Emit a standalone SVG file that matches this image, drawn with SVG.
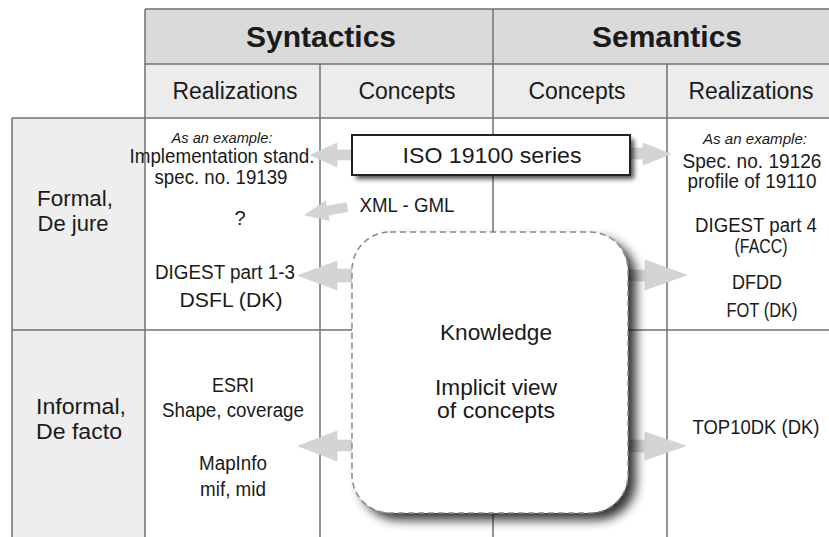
<svg xmlns="http://www.w3.org/2000/svg" width="829" height="537" viewBox="0 0 829 537">
<defs>
<style>
.t{font-family:"Liberation Sans",Arial,sans-serif;fill:#1a1a1a;text-anchor:middle;}
.b{font-size:20px;}
.h1{font-size:30px;font-weight:bold;}
.h2{font-size:23px;}
.lab{font-size:22px;}
.it{font-size:14px;font-style:italic;}
.grid{stroke:#727272;stroke-width:1.5;fill:none;}
.arr{fill:#d4d4d4;stroke:#c8c8c8;stroke-width:0.5;}
</style>
<filter id="shK" x="-20%" y="-20%" width="150%" height="150%">
<feGaussianBlur stdDeviation="5.5"/>
</filter>
<filter id="shI" x="-20%" y="-50%" width="150%" height="200%">
<feGaussianBlur stdDeviation="2.5"/>
</filter>
</defs>
<rect width="829" height="537" fill="#ffffff"/>
<g id="table">
<rect x="145" y="9" width="684" height="55" fill="#dadada"/>
<rect x="145" y="64" width="684" height="54" fill="#ececec"/>
<rect x="12" y="118" width="133" height="419" fill="#eeeeee"/>
<path class="grid" d="M145 9H829M145 64H829M12 118H829M12 330H829M12 118V537M145 9V537M320 64V537M493 9V537M667 64V537"/>
</g>
<g id="headers">
<text class="t h1" x="321" y="47">Syntactics</text>
<text class="t h1" x="667" y="47">Semantics</text>
<text class="t h2" x="235" y="99" textLength="125" lengthAdjust="spacingAndGlyphs">Realizations</text>
<text class="t h2" x="407" y="99">Concepts</text>
<text class="t h2" x="577" y="99">Concepts</text>
<text class="t h2" x="751" y="99" textLength="125" lengthAdjust="spacingAndGlyphs">Realizations</text>
</g>
<g id="rowlabels">
<text class="t lab" x="75" y="206" textLength="76" lengthAdjust="spacingAndGlyphs">Formal,</text>
<text class="t lab" x="73" y="231" textLength="71" lengthAdjust="spacingAndGlyphs">De jure</text>
<text class="t lab" x="81" y="414" textLength="90" lengthAdjust="spacingAndGlyphs">Informal,</text>
<text class="t lab" x="79" y="439" textLength="86" lengthAdjust="spacingAndGlyphs">De facto</text>
</g>
<g id="connectors">
<polygon id="a-iso-left" class="arr" points="356,150 337,150 337,143 310,155 337,167 337,160 356,160"/>
<polygon id="a-iso-right" class="arr" points="626,148 643,148 643,143 671,154 643,165 643,159 626,159"/>
<polygon id="a-xml" class="arr" transform="translate(347,207) rotate(-10.8)" points="0,-4.5 -20,-4.5 -20,-10 -43,0 -20,10 -20,4.5 0,4.5"/>
<polygon id="a-k-left1" class="arr" points="356,269 337,269 337,261 298,275.5 337,290 337,282 356,282"/>
<polygon id="a-k-right1" class="arr" points="620,270 645,270 645,260 687,275 645,290 645,281 620,281"/>
<polygon id="a-k-left2" class="arr" points="356,440 337,440 337,431 298,446 337,461 337,451 356,451"/>
<polygon id="a-k-right2" class="arr" points="620,440 645,440 645,432 686,446 645,460 645,452 620,452"/>
</g>
<g id="iso">
<rect x="356" y="139" width="278" height="40" fill="#000" opacity="0.7" filter="url(#shI)"/>
<rect x="352" y="135" width="278" height="40" fill="#ffffff" stroke="#222" stroke-width="2"/>
<text class="t" x="492" y="163" font-size="22" textLength="179" lengthAdjust="spacingAndGlyphs">ISO 19100 series</text>
</g>
<g id="xml">
<text class="t b" x="407" y="212" textLength="95" lengthAdjust="spacingAndGlyphs">XML - GML</text>
</g>
<g id="knowledge">
<rect x="360" y="239" width="276" height="281" rx="38" fill="#000" opacity="0.8" filter="url(#shK)"/>
<rect x="352" y="232" width="276" height="281" rx="38" fill="#ffffff" stroke="#8a8a8a" stroke-width="1.5" stroke-dasharray="6 4"/>
<text class="t" x="496" y="340" font-size="22" textLength="112" lengthAdjust="spacingAndGlyphs">Knowledge</text>
<text class="t" x="496" y="395" font-size="22" textLength="122" lengthAdjust="spacingAndGlyphs">Implicit view</text>
<text class="t" x="496" y="418" font-size="22" textLength="118" lengthAdjust="spacingAndGlyphs">of concepts</text>
</g>
<g id="syn-formal">
<text class="t it" x="222" y="143" textLength="101" lengthAdjust="spacingAndGlyphs">As an example:</text>
<text class="t b" x="222" y="163" textLength="185" lengthAdjust="spacingAndGlyphs">Implementation stand.</text>
<text class="t b" x="221" y="184" textLength="133" lengthAdjust="spacingAndGlyphs">spec. no. 19139</text>
<text class="t b" x="240" y="225">?</text>
<text class="t b" x="225" y="279" textLength="140" lengthAdjust="spacingAndGlyphs">DIGEST part 1-3</text>
<text class="t b" x="231" y="307" textLength="103" lengthAdjust="spacingAndGlyphs">DSFL (DK)</text>
</g>
<g id="syn-informal">
<text class="t b" x="233" y="392" textLength="42" lengthAdjust="spacingAndGlyphs">ESRI</text>
<text class="t b" x="233" y="417" textLength="142" lengthAdjust="spacingAndGlyphs">Shape, coverage</text>
<text class="t b" x="233" y="470" textLength="68" lengthAdjust="spacingAndGlyphs">MapInfo</text>
<text class="t b" x="233" y="496" textLength="66" lengthAdjust="spacingAndGlyphs">mif, mid</text>
</g>
<g id="sem-formal">
<text class="t it" x="755" y="144" textLength="104" lengthAdjust="spacingAndGlyphs">As an example:</text>
<text class="t b" x="752" y="168" textLength="139" lengthAdjust="spacingAndGlyphs">Spec. no. 19126</text>
<text class="t b" x="752" y="188" textLength="129" lengthAdjust="spacingAndGlyphs">profile of 19110</text>
<text class="t b" x="756" y="232" textLength="122" lengthAdjust="spacingAndGlyphs">DIGEST part 4</text>
<text class="t b" x="761" y="253" font-size="19" textLength="53" lengthAdjust="spacingAndGlyphs">(FACC)</text>
<text class="t b" x="757" y="289" textLength="50" lengthAdjust="spacingAndGlyphs">DFDD</text>
<text class="t b" x="762" y="317" textLength="71" lengthAdjust="spacingAndGlyphs">FOT (DK)</text>
</g>
<g id="sem-informal">
<text class="t b" x="756" y="434" textLength="127" lengthAdjust="spacingAndGlyphs">TOP10DK (DK)</text>
</g>
</svg>
